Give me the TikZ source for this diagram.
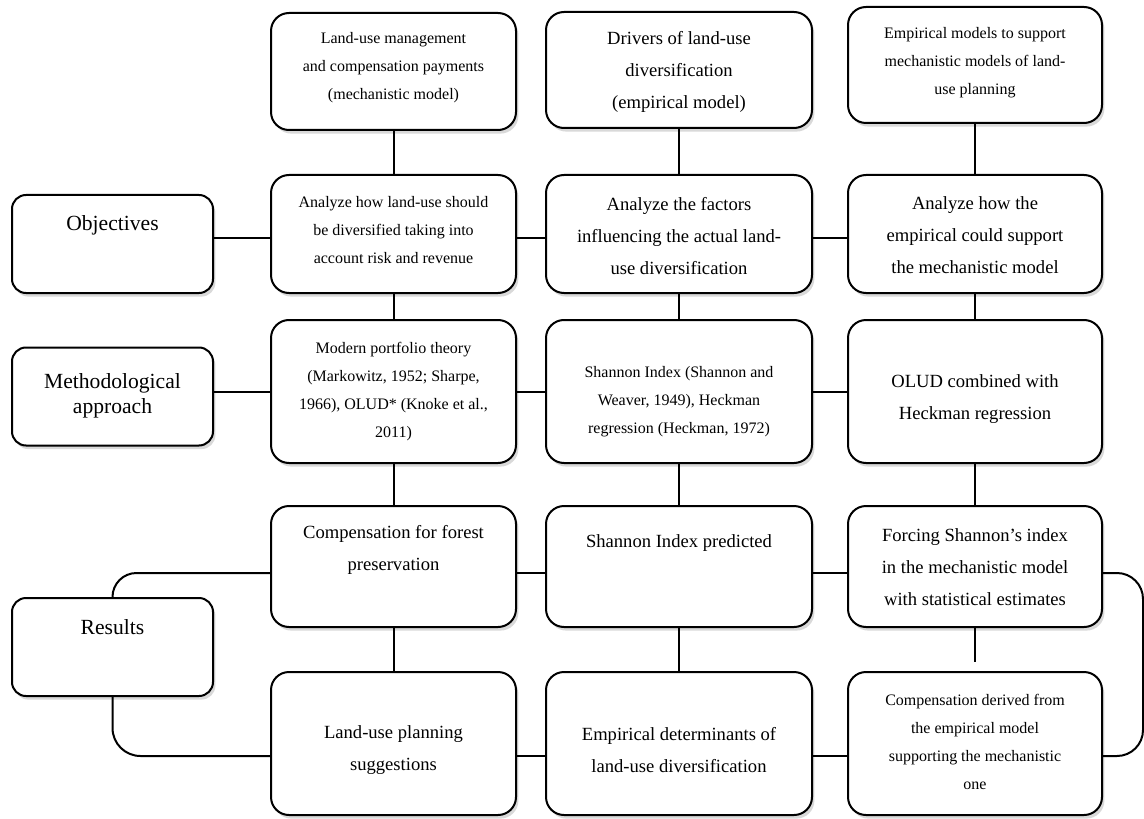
\documentclass[tikz,border=0pt]{standalone}
\usepackage{fontspec}
\setmainfont{Liberation Serif}
\usetikzlibrary{shadows}

\tikzset{
  box/.style={draw, line width=1pt, rounded corners=9pt, fill=white, inner sep=0pt,
    drop shadow={shadow xshift=1.2pt, shadow yshift=-1.8pt, opacity=.25, fill=black!60}},
  sidebox/.style={box, rounded corners=7pt, minimum width=100.5pt, minimum height=49pt},
  colA/.style={minimum width=122.5pt},
  colB/.style={minimum width=133pt},
  colC/.style={minimum width=127pt},
  short/.style={minimum height=59pt},
  tall/.style={minimum height=71.5pt},
  smalltxt/.style={align=center, font=\fontsize{8}{14}\selectfont},
  midtxt/.style={align=center, font=\fontsize{9.3}{16}\selectfont},
  bigtxt/.style={align=center, font=\fontsize{10.8}{12.5}\selectfont},
  link/.style={line width=1pt}
}

\begin{document}
\begin{tikzpicture}[x=0.5pt, y=-0.5pt]
                \useasboundingbox (0,0) rectangle (1144,818);

                % left labels
                \node[sidebox] (L1) at (112.5,244) {};
                \node[sidebox] (L2) at (112.5,396.5) {};
                \node[sidebox] (L3) at (112.5,647) {};

                % boxes
                \node[box, colA, minimum height=58.5pt] (T1) at (393.5,71.5) {};
                \node[box, colB, minimum height=58pt] (T2) at (679,70) {};
                \node[box, colC, minimum height=58pt] (T3) at (975,65) {};

                \node[box, colA, short] (O1) at (393.5,234) {};
                \node[box, colB, short] (O2) at (679,234) {};
                \node[box, colC, short] (O3) at (975,234) {};

                \node[box, colA, tall] (M1) at (393.5,391.5) {};
                \node[box, colB, tall] (M2) at (679,391.5) {};
                \node[box, colC, tall] (M3) at (975,391.5) {};

                \node[box, colA, minimum height=60.5pt] (R1) at (393.5,566.5) {};
                \node[box, colB, minimum height=60.5pt] (R2) at (679,566.5) {};
                \node[box, colC, minimum height=60.5pt] (R3) at (975,566.5) {};

                \node[box, colA, tall] (S1) at (393.5,743.5) {};
                \node[box, colB, tall] (S2) at (679,743.5) {};
                \node[box, colC, tall] (S3) at (975,743.5) {};

                % texts
                \node[bigtxt] (L1t) at (112.5,225) {Objectives};
                \node[bigtxt] (L2t) at (112.5,396) {Methodological\\approach};
                \node[bigtxt] (L3t) at (112.5,627) {Results};

                \node[smalltxt] (T1t) at (393.5,68) {Land-use management\\and compensation payments\\(mechanistic model)};
                \node[midtxt] (T2t) at (679,72) {Drivers of land-use\\diversification\\(empirical model)};
                \node[smalltxt] (T3t) at (975,63) {Empirical models to support\\mechanistic models of land-\\use planning};

                \node[smalltxt] (O1t) at (393.5,230) {Analyze how land-use should\\be diversified taking into\\account risk and revenue};
                \node[midtxt] (O2t) at (679,236) {Analyze the factors\\influencing the actual land-\\use diversification};
                \node[midtxt] (O3t) at (975,235) {Analyze how the\\empirical could support\\the mechanistic model};

                \node[smalltxt] (M1t) at (393.5,391.5) {Modern portfolio theory\\(Markowitz, 1952; Sharpe,\\1966), OLUD* (Knoke et al.,\\2011)};
                \node[smalltxt] (M2t) at (679,402) {Shannon Index (Shannon and\\Weaver, 1949), Heckman\\regression (Heckman, 1972)};
                \node[midtxt] (M3t) at (975,399) {OLUD combined with\\Heckman regression};

                \node[midtxt] (R1t) at (393.5,549.5) {Compensation for forest\\preservation};
                \node[midtxt] (R2t) at (679,543) {Shannon Index predicted};
                \node[midtxt] (R3t) at (975,567) {Forcing Shannon's index\\in the mechanistic model\\with statistical estimates};

                \node[midtxt] (S1t) at (393.5,750) {Land-use planning\\suggestions};
                \node[midtxt] (S2t) at (679,750) {Empirical determinants of\\land-use diversification};
                \node[smalltxt] (S3t) at (975,742) {Compensation derived from\\the empirical model\\supporting the mechanistic\\one};

                \coordinate (R3end) at (975,662);

                % vertical links
                \draw[link] (T1) -- (O1);
                \draw[link] (O1) -- (M1);
                \draw[link] (M1) -- (R1);
                \draw[link] (R1) -- (S1);

                \draw[link] (T2) -- (O2);
                \draw[link] (O2) -- (M2);
                \draw[link] (M2) -- (R2);
                \draw[link] (R2) -- (S2);

                \draw[link] (T3) -- (O3);
                \draw[link] (O3) -- (M3);
                \draw[link] (M3) -- (R3);
                \draw[link] (R3) -- (R3end);

                % horizontal links
                \draw[link] ([yshift=-2pt]O1.west -| L1.east) -- ([yshift=-2pt]O1.west);
                \draw[link] ([yshift=-2pt]O1.east) -- ([yshift=-2pt]O2.west);
                \draw[link] ([yshift=-2pt]O2.east) -- ([yshift=-2pt]O3.west);

                \draw[link] (M1.west -| L2.east) -- (M1.west);
                \draw[link] (M1) -- (M2);
                \draw[link] (M2) -- (M3);

                \draw[link] ([yshift=-3.25pt]R1.east) -- ([yshift=-3.25pt]R2.west);
                \draw[link] ([yshift=-3.25pt]R2.east) -- ([yshift=-3.25pt]R3.west);

                \draw[link] ([yshift=-6.25pt]S1.east) -- ([yshift=-6.25pt]S2.west);
                \draw[link] ([yshift=-6.25pt]S2.east) -- ([yshift=-6.25pt]S3.west);

                % results brackets
                \draw[link, rounded corners=12pt] (L3.north) |- ([yshift=-3.25pt]R1.west);
                \draw[link, rounded corners=14pt] (L3.south) |- ([yshift=-6.25pt]S1.west);
                \draw[link, rounded corners=13pt] ([yshift=-3.25pt]R3.east) -- ++(20pt,0) |- ([yshift=-6.25pt]S3.east);
            \end{tikzpicture}
\end{document}
